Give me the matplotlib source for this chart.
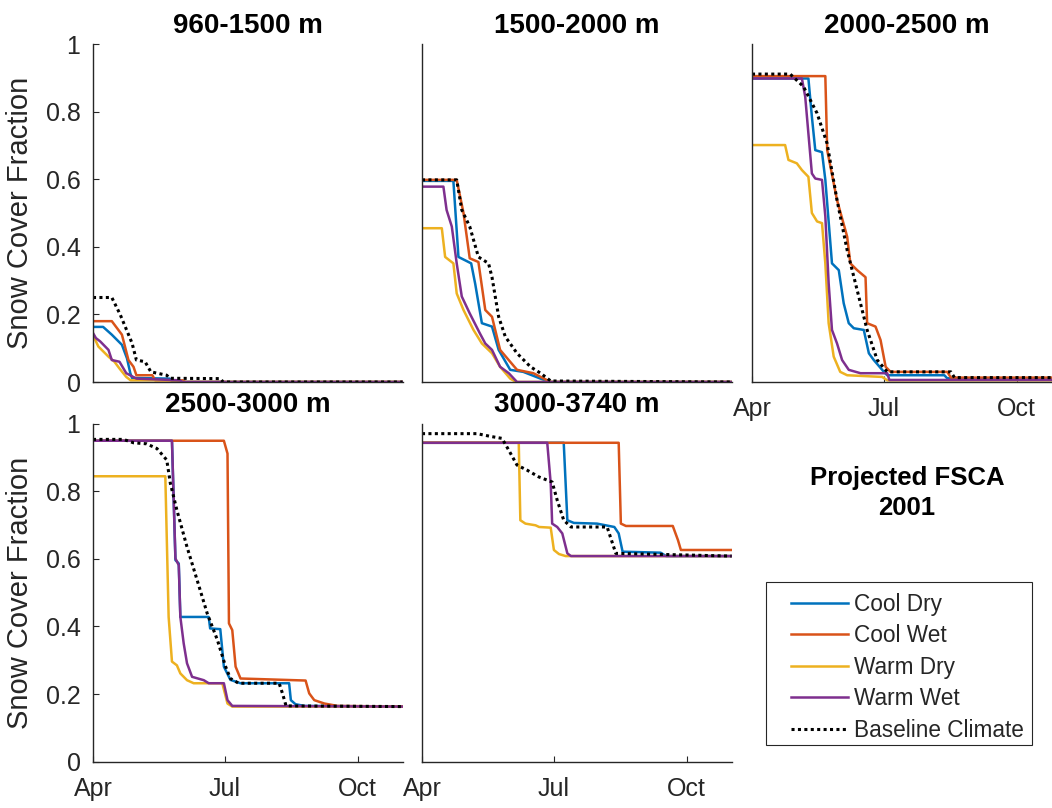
import matplotlib
matplotlib.use('Agg')
import matplotlib.pyplot as plt
from matplotlib.patches import Rectangle

plt.rcParams['font.family'] = ['Liberation Sans', 'DejaVu Sans']

# days counted from 1 April
month_ticks = [0, 91, 183]
month_labels = ['Apr', 'Jul', 'Oct']
bands = ['960-1500 m', '1500-2000 m', '2000-2500 m', '2500-3000 m', '3000-3740 m']
scenarios = ['Cool Dry', 'Cool Wet', 'Warm Dry', 'Warm Wet', 'Baseline Climate']

# ---- 960-1500 m
b1_cd_d = [0, 7, 13, 20, 23.5, 25.8, 27, 53, 55, 214]
b1_cd_v = [0.163, 0.163, 0.14, 0.11, 0.07, 0.026, 0.012, 0.01, 0, 0]
b1_cw_d = [0, 13, 20, 24.5, 28, 30, 41, 43, 62, 64, 214]
b1_cw_v = [0.18, 0.18, 0.14, 0.065, 0.045, 0.02, 0.02, 0.005, 0.005, 0, 0]
b1_wd_d = [0, 3.7, 10.7, 14.8, 18.3, 23, 26, 60, 62, 214]
b1_wd_v = [0.139, 0.105, 0.075, 0.06, 0.04, 0.015, 0.005, 0.005, 0, 0]
b1_ww_d = [0, 2, 5, 10.7, 13, 18.3, 23, 30, 60, 62, 214]
b1_ww_v = [0.145, 0.13, 0.12, 0.095, 0.065, 0.06, 0.026, 0.01, 0.005, 0, 0]
b1_bl_d = [0, 13, 18.75, 27, 30, 36, 40, 51, 53, 88, 90, 214]
b1_bl_v = [0.25, 0.25, 0.2, 0.115, 0.065, 0.06, 0.03, 0.02, 0.011, 0.01, 0, 0]

# ---- 1500-2000 m
b2_cd_d = [0, 21.7, 25.2, 34, 36.8, 41.4, 48.4, 53, 61, 70, 82, 88, 214]
b2_cd_v = [0.595, 0.595, 0.37, 0.351, 0.29, 0.174, 0.164, 0.095, 0.036, 0.03, 0.01, 0, 0]
b2_cw_d = [0, 24, 28.7, 33, 39, 43.75, 48.4, 54, 65.7, 77, 89, 214]
b2_cw_v = [0.598, 0.598, 0.5, 0.366, 0.355, 0.213, 0.193, 0.095, 0.036, 0.026, 0, 0]
b2_wd_d = [0, 13.7, 16, 21.7, 24, 28.7, 35.6, 41.4, 48.4, 54, 61, 65, 214]
b2_wd_v = [0.455, 0.455, 0.37, 0.351, 0.262, 0.213, 0.154, 0.114, 0.085, 0.045, 0.01, 0, 0]
b2_ww_d = [0, 14.8, 17, 20.6, 24, 27.5, 33, 40, 43.75, 48.4, 54, 60, 65.7, 214]
b2_ww_v = [0.578, 0.578, 0.509, 0.46, 0.351, 0.253, 0.203, 0.144, 0.114, 0.095, 0.045, 0.026, 0, 0]
b2_bl_d = [0, 24, 27.5, 33, 39, 46, 48.4, 53, 57.6, 65.7, 75, 82, 89, 214]
b2_bl_v = [0.598, 0.598, 0.509, 0.46, 0.37, 0.351, 0.31, 0.193, 0.134, 0.085, 0.045, 0.026, 0.003, 0]

# ---- 2000-2500 m
b3_cd_d = [0, 39, 41.4, 43.75, 48.4, 50.7, 55.3, 60, 63.4, 66.9, 70.4, 77.3, 80.8, 84.2, 91.2, 93.5, 133, 135, 214]
b3_cd_v = [0.898, 0.898, 0.785, 0.686, 0.68, 0.598, 0.351, 0.331, 0.233, 0.174, 0.159, 0.154, 0.085, 0.065, 0.03, 0.02, 0.02, 0.011, 0.011]
b3_cw_d = [0, 50.7, 52, 58.8, 65.8, 68, 72.7, 78.5, 79.6, 85.4, 88.9, 92.4, 95.8, 135, 137.5, 214]
b3_cw_v = [0.905, 0.905, 0.686, 0.538, 0.43, 0.351, 0.331, 0.31, 0.174, 0.164, 0.124, 0.045, 0.03, 0.03, 0.013, 0.013]
b3_wd_d = [0, 22.9, 25.2, 31, 34.5, 39, 41.4, 45, 48.4, 50.7, 53, 56.5, 61, 65.8, 90, 93.5, 214]
b3_wd_v = [0.701, 0.701, 0.657, 0.647, 0.627, 0.607, 0.5, 0.475, 0.47, 0.351, 0.174, 0.075, 0.03, 0.02, 0.015, 0.005, 0.005]
b3_ww_d = [0, 34.5, 36.8, 39, 41.4, 43.75, 48.4, 50.7, 53, 55.3, 58.8, 62.3, 66.9, 75, 93.5, 95, 214]
b3_ww_v = [0.898, 0.898, 0.844, 0.735, 0.617, 0.602, 0.598, 0.49, 0.292, 0.154, 0.114, 0.065, 0.036, 0.026, 0.026, 0.006, 0.006]
b3_bl_d = [0, 26.4, 35.6, 45, 51.9, 58.8, 65.8, 72.7, 79.6, 86.6, 93.5, 137.5, 140, 214]
b3_bl_v = [0.911, 0.911, 0.874, 0.795, 0.706, 0.538, 0.39, 0.272, 0.154, 0.065, 0.03, 0.03, 0.013, 0.013]

# ---- 2500-3000 m
b4_cd_d = [0, 54.6, 57, 59.3, 60.4, 80, 81, 88, 90.5, 95, 102, 135.6, 136.8, 140, 146, 214]
b4_cd_v = [0.949, 0.949, 0.596, 0.586, 0.428, 0.428, 0.394, 0.392, 0.281, 0.242, 0.232, 0.232, 0.182, 0.17, 0.165, 0.163]
b4_cw_d = [0, 90.5, 93, 94, 96.3, 98.6, 102, 147, 149.5, 153, 160, 169, 214]
b4_cw_v = [0.949, 0.949, 0.911, 0.409, 0.389, 0.281, 0.246, 0.24, 0.202, 0.182, 0.172, 0.165, 0.163]
b4_wd_d = [0, 50, 52.3, 54.6, 58, 60.4, 65, 69.6, 89.4, 93, 96.3, 214]
b4_wd_v = [0.844, 0.844, 0.428, 0.296, 0.285, 0.261, 0.241, 0.232, 0.232, 0.172, 0.163, 0.163]
b4_ww_d = [0, 54.6, 55.8, 57, 59.3, 60.4, 62.7, 65, 68.5, 76.6, 80, 90.5, 93, 96.3, 214]
b4_ww_v = [0.949, 0.949, 0.773, 0.601, 0.581, 0.428, 0.35, 0.291, 0.251, 0.241, 0.232, 0.232, 0.182, 0.165, 0.163]
b4_bl_d = [0, 21, 28, 37, 44.2, 51, 53.5, 58, 65, 72, 79, 86, 91.7, 95, 100.7, 128.7, 131, 133.5, 214]
b4_bl_v = [0.953, 0.953, 0.943, 0.94, 0.926, 0.892, 0.823, 0.744, 0.635, 0.537, 0.438, 0.36, 0.281, 0.246, 0.232, 0.232, 0.202, 0.165, 0.163]

# ---- 3000-3740 m
b5_cd_d = [0, 98, 100.5, 105, 121, 133, 136, 138.7, 165, 168.8, 214]
b5_cd_v = [0.943, 0.943, 0.714, 0.706, 0.704, 0.694, 0.675, 0.621, 0.618, 0.608, 0.608]
b5_cw_d = [0, 136, 137.5, 141, 173.4, 177, 179, 214]
b5_cw_v = [0.943, 0.943, 0.704, 0.697, 0.697, 0.655, 0.626, 0.626]
b5_wd_d = [0, 66.9, 68, 71.5, 78.5, 81, 89, 91.2, 94.7, 99.3, 214]
b5_wd_v = [0.943, 0.943, 0.714, 0.704, 0.699, 0.694, 0.692, 0.626, 0.614, 0.608, 0.608]
b5_ww_d = [0, 86.6, 89, 90, 93.5, 97, 100.5, 103, 214]
b5_ww_v = [0.943, 0.943, 0.823, 0.704, 0.694, 0.675, 0.616, 0.608, 0.608]
b5_bl_d = [0, 38, 47.2, 55.3, 60, 65.7, 72.7, 80.8, 90, 93.5, 98, 103, 128, 131, 134, 214]
b5_bl_v = [0.97, 0.97, 0.962, 0.956, 0.921, 0.877, 0.862, 0.842, 0.827, 0.773, 0.714, 0.694, 0.694, 0.655, 0.616, 0.608]

all_series = [
    [(b1_cd_d, b1_cd_v), (b1_cw_d, b1_cw_v), (b1_wd_d, b1_wd_v), (b1_ww_d, b1_ww_v), (b1_bl_d, b1_bl_v)],
    [(b2_cd_d, b2_cd_v), (b2_cw_d, b2_cw_v), (b2_wd_d, b2_wd_v), (b2_ww_d, b2_ww_v), (b2_bl_d, b2_bl_v)],
    [(b3_cd_d, b3_cd_v), (b3_cw_d, b3_cw_v), (b3_wd_d, b3_wd_v), (b3_ww_d, b3_ww_v), (b3_bl_d, b3_bl_v)],
    [(b4_cd_d, b4_cd_v), (b4_cw_d, b4_cw_v), (b4_wd_d, b4_wd_v), (b4_ww_d, b4_ww_v), (b4_bl_d, b4_bl_v)],
    [(b5_cd_d, b5_cd_v), (b5_cw_d, b5_cw_v), (b5_wd_d, b5_wd_v), (b5_ww_d, b5_ww_v), (b5_bl_d, b5_bl_v)],
]

colors = ['#0072BD', '#D95319', '#EDB120', '#7E2F8E', 'black']
axcol = '#262626'

W, H = 1052, 808
fig = plt.figure(figsize=(W / 100, H / 100), dpi=100)

# panel boxes in pixels: left, top, width, height
boxes = [(93, 44, 309.5, 338), (422, 44, 309.5, 338), (752, 44, 309.5, 338),
         (93, 423.5, 309.5, 338.2), (422, 423.5, 309.5, 338.2)]
show_y = [True, False, False, True, False]
show_x = [False, False, True, True, True]

lines = []
for i, (l, t, w, h) in enumerate(boxes):
    ax = fig.add_axes([l / W, 1 - (t + h) / H, w / W, h / H])
    for j, (d, v) in enumerate(all_series[i]):
        if j == 4:
            ln, = ax.plot(d, v, color='black', lw=2.2, ls=(0, (1, 1.1)))
        else:
            ln, = ax.plot(d, v, color=colors[j], lw=1.8)
        if i == 0:
            lines.append(ln)
    ax.set_xlim(0, 214)
    ax.set_ylim(0, 1)
    for s in ['top', 'right']:
        ax.spines[s].set_visible(False)
    for s in ['left', 'bottom']:
        ax.spines[s].set_color(axcol)
        ax.spines[s].set_linewidth(1.0)
    ax.tick_params(direction='in', length=4, width=0.8, color=axcol,
                   labelcolor=axcol, labelsize=18)
    ax.tick_params(axis='y', pad=9)
    ax.tick_params(axis='x', pad=11)
    if show_y[i]:
        ax.set_yticks([0, 0.2, 0.4, 0.6, 0.8, 1])
        ax.set_yticklabels(['0', '0.2', '0.4', '0.6', '0.8', '1'])
        ax.set_ylabel('Snow Cover Fraction', fontsize=21, color=axcol)
        ax.yaxis.set_label_coords(-0.19, 0.5)
    else:
        ax.set_yticks([])
    if show_x[i]:
        ax.set_xticks(month_ticks)
        ax.set_xticklabels(month_labels)
    else:
        ax.set_xticks([])
    ax.set_title(bands[i], fontsize=20, fontweight='bold', pad=8)

fig.text(907 / W, 1 - 493 / H, 'Projected FSCA\n2001', ha='center', va='center',
         fontsize=18.5, fontweight='bold', linespacing=1.35)

# legend box drawn separately so the inner left margin matches
fig.add_artist(Rectangle((766 / W, 1 - 745 / H), (1032 - 766) / W, (745 - 582) / H,
                         transform=fig.transFigure, facecolor='white',
                         edgecolor=axcol, linewidth=0.8))
leg = fig.legend(lines, scenarios, loc='upper left', bbox_to_anchor=(791 / W, 1 - 593 / H),
                 fontsize=16.3, frameon=False, handlelength=2.5, handletextpad=0.3,
                 labelspacing=0.37, borderpad=0, borderaxespad=0)
for txt in leg.get_texts():
    txt.set_color(axcol)

fig.savefig('out.png', dpi=100)
